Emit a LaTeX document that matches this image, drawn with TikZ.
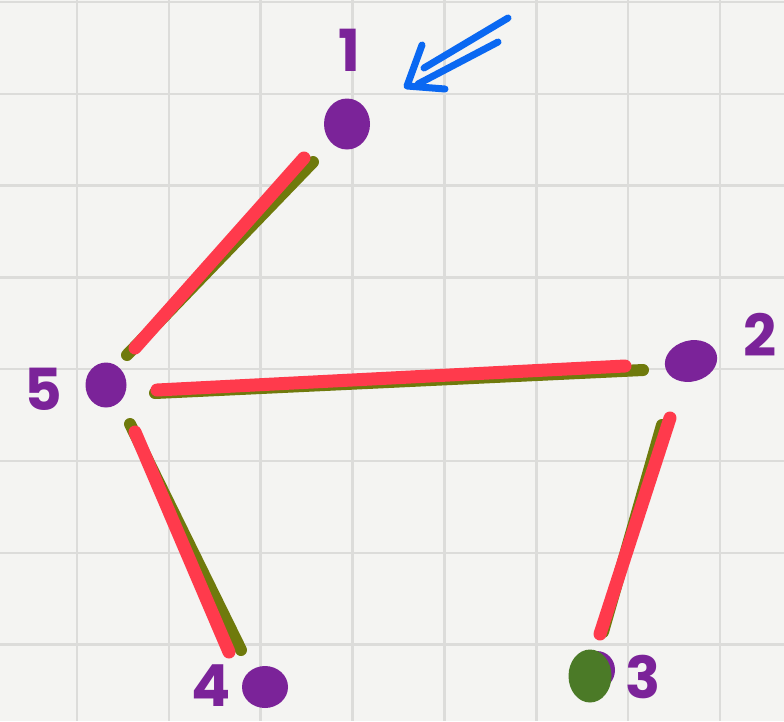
\documentclass[tikz,border=0pt]{standalone}
\usepackage{fontspec}
\setmainfont{Poppins}
\usetikzlibrary{shapes.geometric}
\definecolor{paper}{HTML}{F4F4F2}
\definecolor{gridc}{HTML}{DCDCDA}
\definecolor{dotpurple}{HTML}{7B2399}
\definecolor{dotgreen}{HTML}{4B7A27}
\definecolor{strokered}{HTML}{FF3A4C}
\definecolor{strokeolive}{HTML}{6F7A0C}
\definecolor{arrowblue}{HTML}{0A68F2}
\begin{document}
\begin{tikzpicture}[x=1pt,y=-1pt,
  dot/.style={ellipse,fill=dotpurple,inner sep=0pt},
  lab/.style={text=dotpurple,font=\fontsize{58}{58}\selectfont\bfseries,inner sep=0pt},
  olivestroke/.style={draw=strokeolive,line width=12pt,line cap=round},
  redstroke/.style={draw=strokered,line width=13pt,line cap=round},
  bluepen/.style={draw=arrowblue,line width=7pt,line cap=round,line join=round},
  gridline/.style={draw=gridc,line width=2.5pt}]
\fill[paper] (0,0) rectangle (784,721);
\useasboundingbox (0,0) rectangle (784,721);
\foreach \i in {0,...,7} \draw[gridline] ({77+91.85*\i},0) -- ({77+91.85*\i},721);
\foreach \j in {0,...,7} \draw[gridline] (0,{2+91.8*\j}) -- (784,{2+91.8*\j});

% dots
\node[dot, minimum width=46pt, minimum height=51pt] (n1) at (347,124) {};
\node[dot, minimum width=53pt, minimum height=41pt, rotate=15] (n2) at (691,361) {};
\node[dot, minimum width=36pt, minimum height=38pt] (n3b) at (597,670) {};
\node[dot, fill=dotgreen, minimum width=43pt, minimum height=53pt] (n3) at (590,676) {};
\node[dot, minimum width=46pt, minimum height=42pt] (n4) at (265,687) {};
\node[dot, minimum width=41pt, minimum height=45pt] (n5) at (106,385) {};

% edges: olive shadow first, red on top
\draw[olivestroke] ([shift={(-34,38)}]n1.center) -- ([shift={(21,-30)}]n5.center);
\draw[redstroke]   ([shift={(-43,34)}]n1.center) -- ([shift={(29,-37)}]n5.center);
\draw[olivestroke] ([shift={(49,8)}]n5.center) -- ([shift={(-48,9)}]n2.center);
\draw[redstroke]   ([shift={(51,5)}]n5.center) -- ([shift={(-66,5)}]n2.center);
\draw[olivestroke] ([shift={(24,39)}]n5.center) -- ([shift={(-24,-37)}]n4.center);
\draw[redstroke]   ([shift={(29,47)}]n5.center) -- ([shift={(-36,-35)}]n4.center);
\draw[olivestroke] ([shift={(-29,64)}]n2.center) -- ([shift={(13,-44)}]n3.center);
\draw[redstroke]   ([shift={(-21,57)}]n2.center) -- ([shift={(10,-42)}]n3.center);

% labels
\node[lab] (l1) at (349,50) {1};
\node[lab] (l2) at (760,335) {2};
\node[lab] (l3) at (643,677) {3};
\node[lab] (l4) at (211,686) {4};
\node[lab] (l5) at (43,389) {5};

% blue double arrow
\coordinate (b1) at (508,18);
\coordinate (b2) at (424,68);
\coordinate (b3) at (498,42);
\coordinate (b4) at (418,84);
\coordinate (h1) at (422,45);
\coordinate (tip) at (407,86);
\coordinate (h2) at (445,89);
\draw[bluepen] (b1) -- (b2);
\draw[bluepen] (b3) -- (b4);
\draw[bluepen] (h1) -- (tip) -- (h2);
\end{tikzpicture}
\end{document}
